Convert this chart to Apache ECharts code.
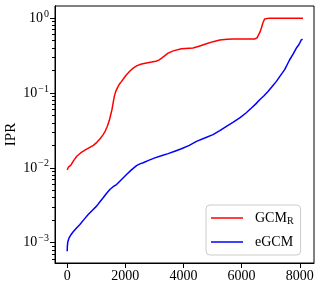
<!DOCTYPE html>
<html>
<head>
<meta charset="utf-8">
<script src="https://cdn.jsdelivr.net/npm/echarts@6/dist/echarts.min.js"></script>
<style>html,body{margin:0;padding:0;background:#fff}#c{width:321px;height:288px}</style>
</head>
<body>
<div id="c"></div>
<script>
var xTicks = [0, 2000, 4000, 6000, 8000];
var yTicks = [0.001, 0.01, 0.1, 1];
var yMinorTicks = [0.0006,0.0007,0.0008,0.0009,0.002,0.003,0.004,0.005,0.006,0.007,0.008,0.009,0.02,0.03,0.04,0.05,0.06,0.07,0.08,0.09,0.2,0.3,0.4,0.5,0.6,0.7,0.8,0.9];
var seriesNames = ['GCM_R', 'eGCM'];
var xRed = [0,40,120,220,330,460,610,760,900,1020,1130,1230,1310,1380,1450,1500,1540,1580,1620,1670,1740,1800,1870,1960,2040,2150,2270,2400,2560,2730,2900,3050,3150,3250,3360,3470,3650,3930,4330,4560,4790,5020,5250,5500,5700,6000,6300,6450,6530,6580,6630,6680,6730,6790,6850,6950,7500,8110];
var yRed = [0.0094,0.0102,0.0108,0.0125,0.0143,0.0158,0.0172,0.0186,0.0200,0.0219,0.0244,0.0276,0.0310,0.0360,0.0431,0.0520,0.0600,0.0740,0.0900,0.105,0.120,0.132,0.143,0.160,0.175,0.195,0.215,0.232,0.244,0.252,0.259,0.266,0.275,0.292,0.315,0.341,0.365,0.390,0.398,0.425,0.454,0.485,0.510,0.522,0.525,0.525,0.525,0.527,0.545,0.575,0.650,0.740,0.860,0.975,0.995,1.0,1.0,1.0];
var xBlue = [0,5,20,60,130,206,320,436,580,722,860,1010,1120,1237,1350,1467,1580,1697,1870,2041,2210,2385,2500,2612,2800,3014,3240,3471,3700,3930,4200,4447,4730,5017,5250,5478,5700,5935,6150,6337,6480,6622,6770,6907,7050,7196,7340,7481,7570,7653,7770,7883,7950,7997,8030,8055,8100];
var yBlue = [0.00077,0.00090,0.00102,0.00115,0.00128,0.00140,0.00157,0.00175,0.00205,0.00238,0.00270,0.00308,0.00350,0.00398,0.00455,0.00514,0.00560,0.00599,0.00700,0.00814,0.00940,0.0107,0.0113,0.0117,0.0126,0.0136,0.0145,0.0155,0.0167,0.0180,0.0200,0.0226,0.0250,0.0278,0.0315,0.0359,0.0405,0.0464,0.0540,0.0630,0.0710,0.0814,0.0920,0.105,0.122,0.143,0.172,0.205,0.240,0.278,0.330,0.398,0.430,0.464,0.440,0.514,0.520];

function pairs(xs, ys) { return xs.map(function (x, i) { return [x, ys[i]]; }); }
var FONT = '"Liberation Serif", "DejaVu Serif", serif';
var chart = echarts.init(document.getElementById('c'), null, {renderer: 'canvas'});
var yMin = Math.pow(10, -3.271), yMax = Math.pow(10, 0.162);
chart.setOption({
  animation: false,
  backgroundColor: '#fff',
  grid: {left: 55, right: 7, top: 6, bottom: 25, show: true, borderColor: '#000', borderWidth: 1, outerBoundsMode: 'none', containLabel: false},
  xAxis: {
    type: 'value', min: -420, max: 8490,
    splitLine: {show: false},
    axisLine: {show: true, onZero: false, lineStyle: {color: '#000', width: 1}},
    axisTick: {show: true, length: 5, lineStyle: {color: '#000', width: 1}, customValues: xTicks},
    axisLabel: {customValues: xTicks, color: '#000', fontFamily: FONT, fontSize: 14, margin: 6,
      formatter: function (v) { return String(v); }}
  },
  yAxis: [{
    type: 'log', logBase: 10, min: yMin, max: yMax,
    name: 'IPR', nameLocation: 'middle', nameGap: 36, nameRotate: 90, nameMoveOverlap: false,
    nameTextStyle: {color: '#000', fontFamily: FONT, fontSize: 15},
    splitLine: {show: false},
    axisLine: {show: true, onZero: false, lineStyle: {color: '#000', width: 1}},
    axisTick: {show: true, length: 5, lineStyle: {color: '#000', width: 1}, customValues: yTicks},
    axisLabel: {
      customValues: yTicks, color: '#000', fontFamily: FONT, margin: 6,
      formatter: function (v) {
        var e = Math.round(Math.log10(v));
        var s = e < 0 ? '\u2212' + (-e) : String(e);
        return '{b|10}{s|' + s + '}';
      },
      rich: {
        b: {fontFamily: FONT, fontSize: 14, color: '#000'},
        s: {fontFamily: FONT, fontSize: 10, color: '#000', padding: [0, 0, 8, 1]}
      }
    }
  }, {
    type: 'log', logBase: 10, min: yMin, max: yMax, position: 'left', offset: 0,
    splitLine: {show: false},
    axisLine: {show: true, onZero: false, lineStyle: {color: '#000', width: 1}},
    axisTick: {show: true, length: 3, lineStyle: {color: '#000', width: 1}, customValues: yMinorTicks},
    axisLabel: {show: false, customValues: yMinorTicks}
  }],
  legend: {
    left: 206, top: 205, orient: 'vertical',
    padding: [5, 7, 6, 5], itemGap: 9, itemWidth: 32, itemHeight: 1.5, icon: 'rect',
    borderColor: '#cccccc', borderWidth: 1, borderRadius: 4,
    backgroundColor: 'rgba(255,255,255,0.8)',
    data: seriesNames,
    formatter: function (n) {
      if (n === 'GCM_R') return '{t|GCM}{u|R}';
      return '{t|' + n + '}';
    },
    textStyle: {
      padding: [0, 0, 0, 7],
      rich: {
        t: {fontFamily: FONT, fontSize: 14, color: '#000', lineHeight: 16},
        u: {fontFamily: FONT, fontSize: 10, color: '#000', padding: [6, 0, 0, 0], lineHeight: 16}
      }
    }
  },
  series: [{
    name: seriesNames[0], type: 'line', yAxisIndex: 0, data: pairs(xRed, yRed),
    symbol: 'none', smooth: false, lineStyle: {color: '#ff0000', width: 1.5}, itemStyle: {color: '#ff0000'}
  }, {
    name: seriesNames[1], type: 'line', yAxisIndex: 0, data: pairs(xBlue, yBlue),
    symbol: 'none', smooth: false, lineStyle: {color: '#0000ff', width: 1.5}, itemStyle: {color: '#0000ff'}
  }]
});
</script>
</body>
</html>
